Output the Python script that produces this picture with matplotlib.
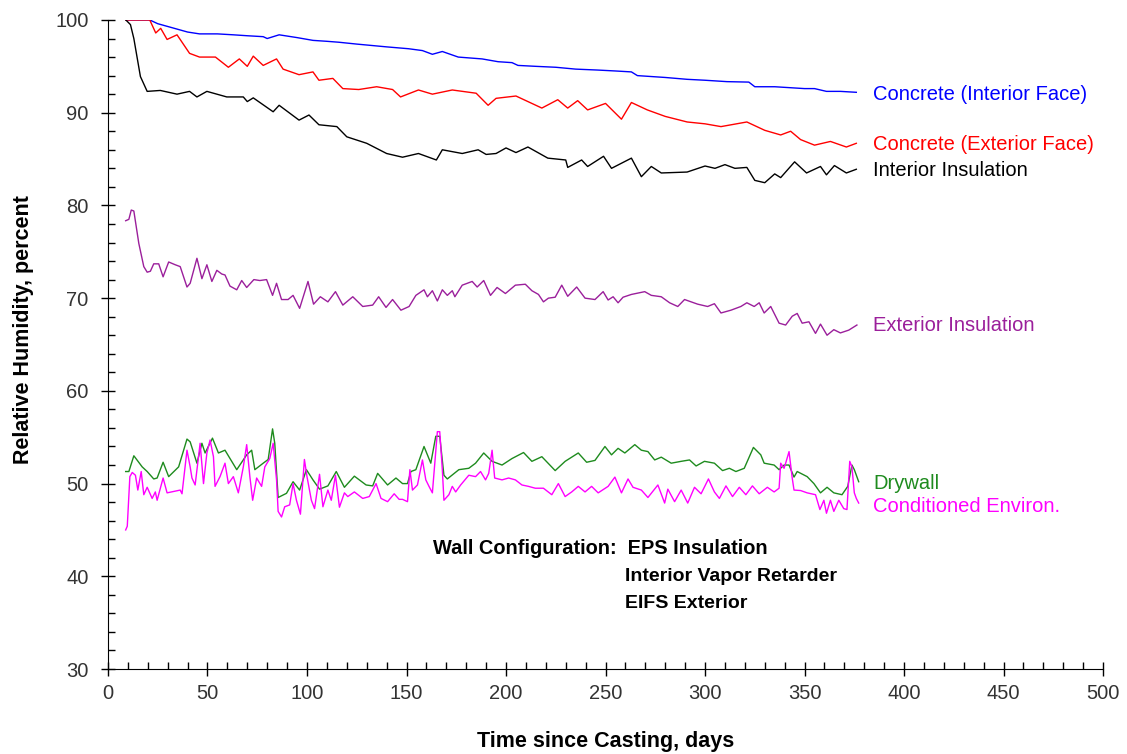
import numpy as np
import matplotlib
matplotlib.use("Agg")
import matplotlib.pyplot as plt
from matplotlib.ticker import MultipleLocator

plt.rcParams['font.family'] = ['Liberation Sans', 'DejaVu Sans']

# ---- data (day, RH %) ----
blue_days = [9, 21, 25, 30, 35, 40, 46, 55, 63, 70, 78, 80, 86, 95, 103, 110, 116, 125, 130, 140,
             151, 158, 163, 168, 176, 188, 196, 203, 206, 215, 225, 235, 246, 255, 263, 266, 280,
             291, 300, 311, 322, 325, 335, 350, 355, 361, 368, 376]
blue_vals = [100, 100, 99.6, 99.3, 99.0, 98.7, 98.5, 98.5, 98.4, 98.3, 98.2, 98.0, 98.4, 98.1, 97.8,
             97.7, 97.6, 97.4, 97.3, 97.1, 96.9, 96.7, 96.3, 96.6, 96.0, 95.8, 95.5, 95.4, 95.1,
             95.0, 94.9, 94.7, 94.6, 94.5, 94.4, 94.0, 93.8, 93.6, 93.5, 93.35, 93.3, 92.8, 92.8,
             92.6, 92.6, 92.3, 92.3, 92.2]

red_days = [9, 21, 24, 26.5, 29.7, 34.7, 41, 46, 54, 60.5, 66, 70, 73, 78, 84.7, 88, 96, 103, 106,
            113, 118, 126, 135, 143, 147, 156, 163, 173, 185, 191, 195, 205, 213, 218, 226, 231, 236,
            241, 250, 258, 263, 271, 280, 291, 300, 308, 321, 330, 338, 343, 348, 355, 363, 371, 376]
red_vals = [100, 100, 98.6, 99.1, 97.9, 98.4, 96.4, 96.0, 96.0, 94.9, 95.8, 95.0, 96.1, 95.1, 95.8,
            94.7, 94.1, 94.4, 93.5, 93.7, 92.6, 92.5, 92.8, 92.5, 91.7, 92.45, 92.0, 92.45, 92.1,
            90.8, 91.55, 91.8, 91.0, 90.5, 91.4, 90.5, 91.3, 90.3, 91.0, 89.3, 91.1, 90.3, 89.6,
            89.0, 88.8, 88.5, 89.0, 88.1, 87.6, 88.0, 87.1, 86.5, 86.9, 86.3, 86.7]

black_days = [9, 11.3, 13, 16.3, 19.7, 26.3, 34.7, 41, 44.7, 49.7, 59.7, 68, 70, 73, 83, 86, 96, 101,
              106, 115, 120, 130, 140, 148, 156, 165, 168, 178, 186, 190, 195, 200, 205, 211, 221,
              230, 231, 238, 241, 249, 253, 263, 268, 273, 278, 291, 300, 305, 310, 315, 321, 325,
              330, 335, 338, 345, 351, 358, 361, 365, 371, 376]
black_vals = [100, 99.5, 98.0, 93.9, 92.3, 92.4, 92.0, 92.3, 91.7, 92.3, 91.7, 91.7, 91.2, 91.6,
              90.1, 90.8, 89.2, 89.75, 88.7, 88.5, 87.4, 86.7, 85.6, 85.2, 85.6, 84.9, 86.0, 85.6,
              86.0, 85.5, 85.6, 86.2, 85.7, 86.3, 85.1, 84.9, 84.1, 84.9, 84.2, 85.3, 84.0, 85.1,
              83.1, 84.2, 83.5, 83.6, 84.25, 84.0, 84.4, 84.0, 84.1, 82.7, 82.45, 83.4, 83.0, 84.7,
              83.5, 84.2, 83.3, 84.3, 83.5, 83.9]

purple_days = [8.9, 10.5, 11.7, 13, 15.5, 18, 19.7, 21.3, 23, 25.5, 27.7, 30.5, 33.8, 36.3, 39.7,
               41.3, 44.7, 47.2, 49.7, 52.2, 54.7, 57.2, 58.8, 61.3, 64.7, 67.2, 69.7, 73.3, 76.3,
               79.7, 82.7, 84.7, 87.2, 90.5, 93, 96.3, 100.5, 103.3, 106.7, 110.5, 114.3, 118, 123,
               128, 133, 136, 139.7, 143, 147.2, 151.3, 154.7, 158.8, 160.5, 163, 165.5, 168, 170.5,
               173, 174.3, 178, 183, 185.5, 188.8, 192.2, 195.5, 199.7, 204.7, 209.7, 213, 216.3,
               218.8, 221.3, 224.7, 228, 231, 235.5, 239.7, 244.7, 248.8, 251.3, 253.8, 256.3,
               258.8, 263, 269.7, 273, 278, 282.2, 286.3, 289.7, 296.3, 301.3, 304.7, 308, 313,
               318, 321, 324.7, 327.2, 329.7, 333, 337.2, 340.5, 343.8, 346.3, 348.8, 352.2, 355.5,
               358, 361.3, 364.7, 368, 372.2, 376.3]
purple_vals = [78.35, 78.5, 79.5, 79.4, 75.9, 73.4, 72.8, 72.9, 73.7, 73.7, 72.3, 73.9, 73.6, 73.4,
               71.2, 71.6, 74.3, 72.1, 73.6, 71.8, 73.0, 72.6, 72.5, 71.3, 70.9, 71.9, 71.15, 72.0,
               71.9, 72.0, 70.3, 71.6, 69.85, 69.85, 70.3, 68.9, 71.8, 69.35, 70.15, 69.6, 70.7,
               69.25, 70.15, 69.1, 69.25, 70.15, 69.0, 69.85, 68.7, 69.1, 70.3, 70.9, 70.15, 70.8,
               69.7, 70.9, 70.3, 70.8, 70.15, 71.4, 71.8, 71.2, 71.9, 70.3, 71.15, 70.5, 71.4, 71.5,
               70.8, 70.4, 69.6, 70.0, 70.1, 71.4, 70.2, 71.2, 70.0, 69.85, 70.7, 69.8, 70.15, 69.5,
               70.1, 70.4, 70.7, 70.3, 70.15, 69.5, 69.1, 69.85, 69.35, 69.1, 69.4, 68.4, 68.7,
               69.1, 69.5, 69.1, 69.5, 68.4, 69.1, 67.3, 67.1, 68.05, 68.35, 67.3, 67.45, 66.2,
               67.2, 66.0, 66.6, 66.25, 66.55, 67.1]

green_days = [8.9, 10.5, 13, 17.2, 19.7, 23, 24.7, 27.7, 30.5, 35.5, 39.7, 41.3, 44.7, 47.2, 48.8,
              52.5, 55.5, 58.8, 64.7, 69.7, 72.2, 73.8, 78, 80.5, 82.7, 83.8, 85.5, 89.7, 93, 96.3,
              99.7, 103, 106.3, 110.5, 114.7, 118.8, 123.8, 129.7, 133, 135.5, 140.5, 144.7, 148,
              150.5, 152.2, 154.7, 158.8, 162.2, 164.7, 166.7, 168.8, 170.5, 176.3, 181.3, 184.7,
              188.8, 193, 198, 203, 208.8, 213, 218, 224.7, 229.7, 236.3, 240.5, 244.7, 249.7, 253,
              256.3, 259.7, 264.7, 268, 271.3, 274.7, 278, 283, 288, 292.2, 295.5, 299.7, 304.7,
              308.8, 312.2, 315.5, 319.7, 324.3, 328, 329.7, 334.7, 337.2, 339.7, 342.2, 344.7,
              346.3, 351.3, 354.7, 358, 361.3, 364.7, 368.8, 371.7, 373.8, 375, 377.2]
green_vals = [51.3, 51.3, 53.0, 51.8, 51.3, 50.5, 50.6, 52.3, 50.75, 51.8, 54.8, 54.5, 52.2, 54.35,
              53.3, 54.9, 53.3, 53.6, 51.5, 53.1, 53.6, 51.5, 52.2, 52.6, 55.9, 54.35, 48.5, 48.95,
              50.2, 49.3, 51.5, 50.4, 49.4, 49.75, 51.3, 49.6, 50.8, 49.85, 49.75, 51.1, 49.85, 50.6,
              50.0, 50.0, 51.3, 51.5, 54.0, 52.2, 55.1, 55.1, 50.9, 50.5, 51.5, 51.65, 52.2, 53.3,
              52.4, 52.0, 52.7, 53.35, 52.4, 52.9, 51.4, 52.4, 53.3, 52.3, 52.5, 54.0, 53.1, 53.8,
              53.3, 54.2, 53.6, 53.45, 52.55, 52.85, 52.2, 52.4, 52.55, 51.9, 52.4, 52.2, 51.4,
              51.65, 51.3, 51.65, 53.9, 53.1, 52.2, 52.0, 51.5, 52.0, 52.0, 50.7, 51.3, 50.75, 50.0,
              49.0, 49.6, 49.0, 48.8, 49.7, 52.0, 51.5, 50.2]

mag_days = [8.9, 9.7, 11, 12.2, 13.8, 15, 16.7, 18, 19.7, 22.2, 23.8, 24.7, 27.7, 29.7, 36.3, 37.2,
            39.7, 41.3, 42.2, 43.8, 46.3, 48, 49.7, 51.3, 53, 53.8, 56.3, 58.8, 60.5, 63, 65.5, 68,
            69.7, 71.3, 72.7, 74.7, 77.2, 78.8, 81.3, 83, 84.7, 85.5, 87.2, 88.8, 91.3, 93, 94.7,
            96.7, 98.7, 100, 102.2, 103.8, 106.3, 108, 110.5, 112.2, 114.3, 116.3, 118.8, 120.5,
            123.8, 128, 131.3, 134.7, 137.2, 140.5, 143.8, 146.3, 148, 150.5, 151.7, 153, 155.5,
            158, 159.7, 161.3, 163, 165.5, 166.7, 168, 168.8, 171.3, 173, 174.7, 177.2, 181.3,
            184.7, 187.2, 189.7, 191.3, 193, 194.3, 198, 201.3, 204.7, 208, 211.3, 214.7, 218.8,
            223, 226.3, 229.7, 233, 236.3, 239.7, 243, 246.3, 251.3, 254.7, 258, 261.3, 263.8,
            268, 271.3, 276.3, 279.7, 281.3, 284.7, 288, 291.3, 294.7, 298, 301.7, 304.7, 307.2,
            310.5, 313.8, 317.2, 320.5, 323.8, 327.2, 331.3, 334.7, 337.2, 338, 339.7, 340.5,
            342.2, 343.8, 344.7, 348, 351.3, 355.5, 357.7, 359.7, 361, 363, 364.7, 367.2, 369.7,
            371.3, 372.7, 373.8, 375, 376, 377.2]
mag_vals = [45.0, 45.4, 50.75, 51.2, 50.9, 49.3, 51.3, 48.8, 49.6, 48.4, 49.1, 48.2, 50.6, 49.0,
            49.3, 48.9, 53.6, 51.8, 50.6, 49.85, 54.35, 50.0, 53.3, 54.7, 52.9, 49.7, 50.75, 52.2,
            50.0, 50.75, 49.0, 51.8, 54.2, 50.75, 48.2, 50.6, 49.7, 51.8, 52.7, 54.35, 50.4, 47.0,
            46.4, 47.5, 47.7, 50.0, 48.2, 46.7, 52.6, 50.75, 48.2, 47.3, 51.0, 47.5, 49.3, 48.2,
            50.9, 47.45, 49.0, 48.6, 49.1, 48.4, 48.6, 50.0, 48.4, 48.05, 48.9, 48.3, 48.3, 48.05,
            51.5, 49.3, 49.85, 52.55, 50.4, 49.7, 49.0, 55.6, 55.6, 51.5, 48.2, 48.8, 49.7, 49.1,
            49.85, 50.9, 50.75, 51.3, 50.4, 51.1, 53.6, 50.6, 50.4, 50.6, 50.4, 49.85, 49.7, 49.5,
            49.5, 48.8, 50.0, 48.6, 49.1, 49.7, 49.1, 49.7, 49.0, 49.7, 50.7, 49.0, 50.5, 49.6,
            49.3, 48.5, 49.85, 47.9, 49.4, 48.05, 49.3, 47.9, 49.6, 48.9, 50.5, 49.1, 48.4, 49.75,
            48.6, 49.6, 48.8, 49.75, 48.9, 49.6, 49.1, 49.5, 52.2, 51.65, 52.2, 53.45, 50.6, 49.3,
            49.25, 49.0, 48.8, 47.2, 48.2, 46.8, 48.2, 47.0, 48.2, 47.3, 47.2, 52.4, 51.8, 49.0,
            48.4, 47.9]

series = [
    (blue_days, blue_vals, '#0000FF', 'Concrete (Interior Face)', 92.0),
    (red_days, red_vals, '#FF0000', 'Concrete (Exterior Face)', 86.6),
    (black_days, black_vals, '#000000', 'Interior Insulation', 83.8),
    (purple_days, purple_vals, '#9B1F9B', 'Exterior Insulation', 67.0),
    (green_days, green_vals, '#1E8B1E', 'Drywall', 50.0),
    (mag_days, mag_vals, '#FF00FF', 'Conditioned Environ.', 47.5),
]

fig = plt.figure(figsize=(11.27, 7.54), dpi=100)
ax = fig.add_axes([0.0958, 0.1127, 0.883, 0.8608])

for d, v, c, name, ylab in series:
    ax.plot(d, v, color=c, lw=1.0)
    ax.text(384.5, ylab, name, color=c, fontsize=14.5, va='center', ha='left')

ax.set_xlim(0, 500)
ax.set_ylim(30, 100)
ax.xaxis.set_major_locator(MultipleLocator(50))
ax.xaxis.set_minor_locator(MultipleLocator(10))
ax.yaxis.set_major_locator(MultipleLocator(10))
ax.yaxis.set_minor_locator(MultipleLocator(2))
ax.tick_params(which='major', direction='inout', length=10, width=1, labelsize=14.5,
               labelcolor='#333333', pad=6)
ax.tick_params(axis='y', which='major', pad=9)
ax.tick_params(which='minor', direction='in', length=5, width=1)
ax.spines['top'].set_visible(False)
ax.spines['right'].set_visible(False)

ax.set_xlabel('Time since Casting, days', fontsize=15.5, fontweight='bold', labelpad=20)
ax.set_ylabel('Relative Humidity, percent', fontsize=15.5, fontweight='bold')
ax.yaxis.set_label_coords(-0.074, 0.523)

ax.text(163.4, 43.05, 'Wall Configuration:  EPS Insulation', fontsize=14.4, fontweight='bold',
        va='center', ha='left')
ax.text(260, 40.0, 'Interior Vapor Retarder', fontsize=14, fontweight='bold', va='center', ha='left')
ax.text(260, 37.1, 'EIFS Exterior', fontsize=14, fontweight='bold', va='center', ha='left')

fig.savefig('out.png', dpi=100)
